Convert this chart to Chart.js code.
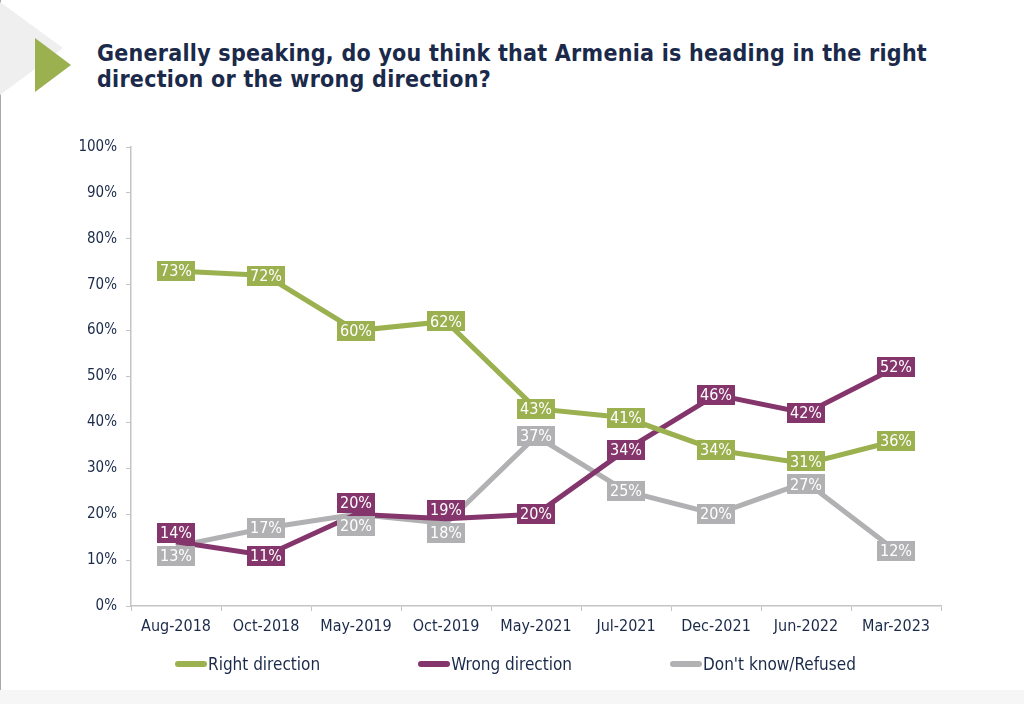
<!DOCTYPE html>
<html>
<head>
<meta charset="utf-8">
<script src="https://cdn.jsdelivr.net/npm/chart.js@4.4.0/dist/chart.umd.min.js"></script>
<style>
  body { margin: 0; width: 1024px; height: 704px; background: #fff; position: relative; overflow: hidden; font-family: "DejaVu Sans Condensed", "DejaVu Sans", sans-serif; }
  #edge { position: absolute; left: 0; top: 0; width: 1px; height: 704px; background: #a8a8a8; }
  #bottomBand { position: absolute; left: 0; top: 690px; width: 1024px; height: 14px; background: #f6f6f6; }
  #deco { position: absolute; left: 0; top: 0; }
  #title { position: absolute; left: 97px; top: 40px; color: #1b2a4a; font-weight: bold; font-size: 23px; line-height: 26px; letter-spacing: 0.25px; white-space: nowrap; }
  #chartBox { position: absolute; left: 0; top: 0; width: 1024px; height: 704px; }
  #legend { position: absolute; left: 175px; top: 654px; display: flex; gap: 98px; color: #1b2a4a; font-size: 17px; }
  .item { display: flex; align-items: center; }
  .mark { width: 32px; height: 6px; border-radius: 3px; margin-right: 1px; }
</style>
</head>
<body>
<div id="edge"></div>
<div id="bottomBand"></div>
<svg id="deco" width="100" height="110">
  <polygon points="0,2 63,48 0,95" fill="#efefef"/>
  <polygon points="35,38 71,65 35,92" fill="#9bb04f"/>
</svg>
<div id="title">Generally speaking, do you think that Armenia is heading in the right<br>direction or the wrong direction?</div>
<div id="chartBox"><canvas id="grafico" width="1024" height="704"></canvas></div>
<div id="legend"></div>
<script>
const categorias = ['Aug-2018', 'Oct-2018', 'May-2019', 'Oct-2019', 'May-2021', 'Jul-2021', 'Dec-2021', 'Jun-2022', 'Mar-2023'];
const rightDirection = [73, 72, 60, 62, 43, 41, 34, 31, 36];
const wrongDirection = [14, 11, 20, 19, 20, 34, 46, 42, 52];
const dontKnow = [13, 17, 20, 18, 37, 25, 20, 27, 12];
const nomes = ['Right direction', 'Wrong direction', "Don't know/Refused"];
const cores = ['#9bb04f', '#84356b', '#b1b1b3'];

const fonte = 'DejaVu Sans Condensed';
const textColor = '#1b2a4a';
const axisColor = '#c4c4c4';

// caixas de rótulo sobre cada ponto, afastadas quando se sobrepõem
const rotulos = {
    id: 'rotulos',
    afterDatasetsDraw(chart) {
        const ctx = chart.ctx;
        const h = 20;
        ctx.save();
        ctx.font = '16px "' + fonte + '", "DejaVu Sans"';
        ctx.textAlign = 'center';
        ctx.textBaseline = 'middle';
        for (let i = 0; i < categorias.length; i++) {
            const itens = chart.data.datasets.map((ds, d) => {
                const pt = chart.getDatasetMeta(d).data[i];
                const texto = ds.data[i] + '%';
                return { x: pt.x, y: pt.y, w: ctx.measureText(texto).width + 6, cor: ds.borderColor, texto };
            });
            itens.sort((a, b) => a.y - b.y);
            for (let k = 0; k < 4; k++) {
                for (let j = 0; j < itens.length - 1; j++) {
                    const a = itens[j], b = itens[j + 1];
                    const need = h + 3;
                    if (b.y - a.y < need) {
                        const s = (need - (b.y - a.y)) / 2;
                        a.y -= s;
                        b.y += s;
                    }
                }
            }
            itens.forEach(it => {
                ctx.fillStyle = it.cor;
                ctx.fillRect(Math.round(it.x - it.w / 2), Math.round(it.y - h / 2), Math.round(it.w), h);
                ctx.fillStyle = '#ffffff';
                ctx.fillText(it.texto, it.x, it.y + 1);
            });
        }
        ctx.restore();
    }
};

const series = [rightDirection, wrongDirection, dontKnow];

new Chart(document.getElementById('grafico').getContext('2d'), {
    type: 'line',
    data: {
        labels: categorias,
        datasets: series.map((s, i) => ({
            label: nomes[i],
            data: s,
            borderColor: cores[i],
            backgroundColor: cores[i],
            borderWidth: 5,
            pointRadius: 0,
            tension: 0,
            fill: false
        }))
    },
    options: {
        responsive: false,
        animation: false,
        layout: { padding: { left: 0, right: 83, top: 147, bottom: 58 } },
        plugins: {
            legend: { display: false },
            tooltip: { enabled: false }
        },
        scales: {
            x: {
                offset: true,
                grid: { offset: true, drawOnChartArea: false, drawTicks: true, tickLength: 5, color: axisColor },
                border: { color: axisColor, width: 1.5 },
                ticks: { color: textColor, font: { family: fonte, size: 16 }, padding: 6, maxRotation: 0 },
                afterFit: s => { s.height = 40; }
            },
            y: {
                min: 0,
                max: 100,
                grid: { drawOnChartArea: false, drawTicks: true, tickLength: 5, color: axisColor },
                border: { color: axisColor, width: 1.5 },
                ticks: { stepSize: 10, color: textColor, font: { family: fonte, size: 15 }, padding: 9, callback: v => v + '%' },
                afterFit: s => { s.width = 131; }
            }
        }
    },
    plugins: [rotulos]
});

const legenda = document.getElementById('legend');
nomes.forEach((n, i) => {
    const it = document.createElement('div');
    it.className = 'item';
    it.innerHTML = '<span class="mark" style="background:' + cores[i] + '"></span><span>' + n + '</span>';
    legenda.appendChild(it);
});
</script>
</body>
</html>
